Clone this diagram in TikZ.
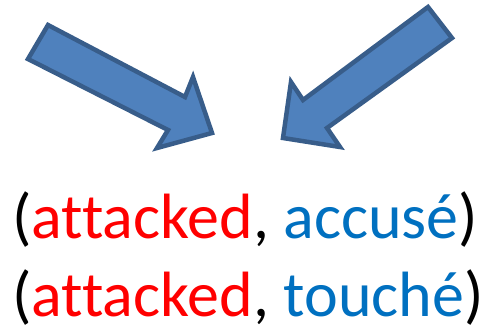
\documentclass[tikz,border=0pt]{standalone}
\usepackage{fontspec}
\setmainfont{Carlito}[Ligatures={NoCommon,NoContextual},RawFeature={-liga;-clig;-dlig}]
\definecolor{arrfill}{HTML}{4F81BD}
\definecolor{arrline}{HTML}{385D8A}
\definecolor{enred}{HTML}{FF0000}
\definecolor{frblue}{HTML}{0070C0}
\begin{document}
\begin{tikzpicture}[x=1pt,y=-1pt,
  blockarrow/.style={fill=arrfill,draw=arrline,line width=4.5pt,line join=miter},
  pairtext/.style={anchor=base west,inner sep=0pt,font=\fontsize{64}{64}\selectfont}]
\useasboundingbox (0,0) rectangle (479,324);
\draw[blockarrow] (48,25) -- (185,97) -- (193,77) -- (212,133) -- (157,148) -- (168,130) -- (28,59) -- cycle;
\draw[blockarrow] (428,7) -- (452,38) -- (327,128) -- (340,147) -- (283,138) -- (291,82) -- (303,100) -- cycle;
\node[pairtext] (l1) at (12,238) {(\textcolor{enred}{attacked}, \textcolor{frblue}{accusé})};
\node[pairtext] (l2) at (12,316) {(\textcolor{enred}{attacked}, \textcolor{frblue}{touché})};
\end{tikzpicture}
\end{document}
